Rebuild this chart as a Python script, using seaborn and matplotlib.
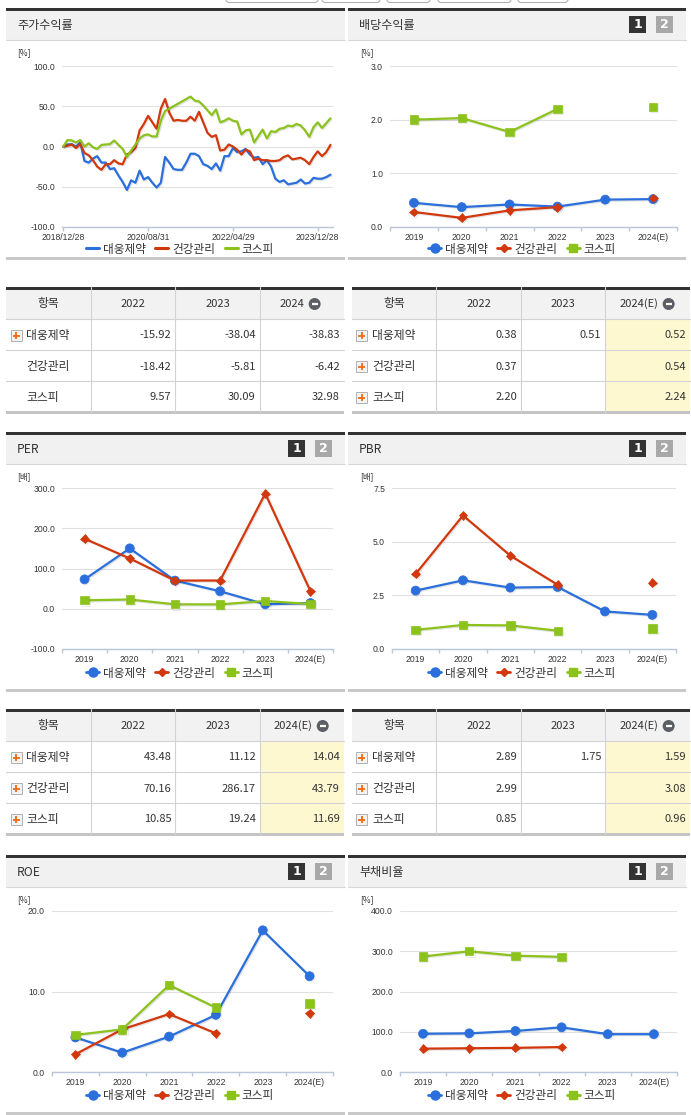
import numpy as np
import pandas as pd
import matplotlib
matplotlib.use('Agg')
import matplotlib.pyplot as plt
import matplotlib.patheffects as pe
from matplotlib.patches import Rectangle, Circle, FancyBboxPatch
from matplotlib.lines import Line2D
from matplotlib.ticker import FormatStrFormatter
import seaborn as sns

sns.set_theme(style='white')
plt.rcParams['font.family'] = ['Noto Sans CJK KR', 'DejaVu Sans']

W, H = 691, 1115

names = ['대웅제약', '건강관리', '코스피']
colors = ['#2a6fdc', '#d2380c', '#8cc21c']
markers = ['o', 'D', 's']
msizes = [6.5, 4.5, 6]
years = ['2019', '2020', '2021', '2022', '2023', '2024(E)']

# 주가수익률 (monthly, %)
ret_daewoong = [0, 2.5, 3, 0, 5, -18, -20, -15, -12, -20, -20, -28, -27, -36, -44, -54,
                -42, -45, -30, -41, -38, -45, -51, -45, -13, -20, -28, -29, -29, -20, -9, -9,
                -12, -22, -24, -28, -21, -30, -12, -12, -2, -7, -6, -3, -10, -14, -13, -22,
                -17, -25, -40, -44, -42, -47, -46, -45, -41, -46, -45, -39, -40, -40, -38, -35]
ret_health = [0, 1, 2.5, -2, 3, -8, -11, -17, -25, -29, -22, -22, -17, -21, -22, -10,
              -7, -2, 20, 28, 38, 30, 22, 47, 59, 42, 32, 33, 32, 32, 37, 32,
              43, 30, 17, 12, 14, -5, -4, 2.5, 0, -4, -10, -4, -6, -17, -15, -17,
              -17, -18, -18, -17, -13, -11, -16, -15, -14, -17, -22, -13, -6, -12, -7, 2]
ret_kospi = [0, 8, 7.5, 5, 8, 0, 4, -1, -3, 2, 2.5, 3, 7.5, 2, -3, -13,
             -5, 2.5, 10, 14, 15, 12.5, 12.5, 32, 44, 47, 50, 53, 56, 59, 62, 57,
             56, 51, 45, 39, 46, 30, 32, 35, 32, 31, 15, 20, 21, 5, 13, 21,
             10, 19, 18, 22, 23, 26, 25, 28, 26, 20, 12, 24, 30, 23, 29, 35]
ret_tick_pos = [0, 20, 40, 60]
ret_tick_labels = ['2018/12/28', '2020/08/31', '2022/04/29', '2023/12/28']

div_daewoong = [0.45, 0.37, 0.42, 0.38, 0.51, 0.52]
div_health = [0.28, 0.17, 0.31, 0.37, None, 0.54]
div_kospi = [2.00, 2.03, 1.77, 2.20, None, 2.24]

per_daewoong = [73, 150, 70, 43.48, 11.12, 14.04]
per_health = [174, 125, 70, 70.16, 286.17, 43.79]
per_kospi = [21, 23, 11, 10.85, 19.24, 11.69]

pbr_daewoong = [2.72, 3.20, 2.86, 2.89, 1.75, 1.59]
pbr_health = [3.50, 6.22, 4.35, 2.99, None, 3.08]
pbr_kospi = [0.89, 1.12, 1.10, 0.85, None, 0.96]

roe_daewoong = [4.3, 2.4, 4.4, 7.1, 17.6, 11.9]
roe_health = [2.2, 5.3, 7.2, 4.8, None, 7.3]
roe_kospi = [4.6, 5.3, 10.8, 8.0, None, 8.5]

debt_daewoong = [95, 96, 102, 111, 94, 94]
debt_health = [58, 59, 60, 62, None, None]
debt_kospi = [287, 300, 289, 286, None, None]

# tables
t_ret_head = ['2022', '2023', '2024']
t_ret_vals = [['-15.92', '-38.04', '-38.83'], ['-18.42', '-5.81', '-6.42'], ['9.57', '30.09', '32.98']]
t_div_head = ['2022', '2023', '2024(E)']
t_div_vals = [['0.38', '0.51', '0.52'], ['0.37', '', '0.54'], ['2.20', '', '2.24']]
t_per_vals = [['43.48', '11.12', '14.04'], ['70.16', '286.17', '43.79'], ['10.85', '19.24', '11.69']]
t_pbr_vals = [['2.89', '1.75', '1.59'], ['2.99', '', '3.08'], ['0.85', '', '0.96']]

fig = plt.figure(figsize=(W / 100, H / 100), dpi=100)
bg = fig.add_axes([0, 0, 1, 1])
bg.set_xlim(0, W)
bg.set_ylim(H, 0)
bg.axis('off')

shadow = [pe.SimpleLineShadow(offset=(0.8, -0.8), shadow_color='k', alpha=0.12), pe.Normal()]
AXC = '#b9c7d8'

# cut-off buttons at top
for bx0, bx1 in [(226, 318), (322, 380), (387, 430), (438, 511), (518, 568)]:
    bg.add_patch(FancyBboxPatch((bx0, -20), bx1 - bx0, 22.5, boxstyle='round,pad=0,rounding_size=3',
                                fc='white', ec='#b0b0b0', lw=0.8))


def panel(x0, x1, y0, y1, title, buttons=True):
    bg.add_patch(Rectangle((x0, y0 + 2.5), x1 - x0, 29, color='#f1f1f1', lw=0))
    bg.add_patch(Rectangle((x0, y0), x1 - x0, 2.5, color='#333333', lw=0))
    bg.plot([x0, x1], [y0 + 31.5] * 2, color='#d8d8d8', lw=0.8)
    bg.add_patch(Rectangle((x0, y1 - 2.5), x1 - x0, 3, color='#c9c9c9', lw=0))
    bg.text(x0 + 11, y0 + 17.5, title, fontsize=8.7, va='center', ha='left', color='#333333')
    if buttons:
        for k, (lab, fc) in enumerate([('1', '#333333'), ('2', '#a8a8a8')]):
            bx = x1 - 57 + k * 27
            bg.add_patch(Rectangle((bx, y0 + 8), 17, 17, color=fc, lw=0))
            bg.text(bx + 8.5, y0 + 16.8, lab, color='white', fontsize=9, fontweight='bold',
                    ha='center', va='center', family='DejaVu Sans')


def make_axes(x0, x1, ytop, ybot):
    ax = fig.add_axes([x0 / W, 1 - ybot / H, (x1 - x0) / W, (ybot - ytop) / H])
    ax.patch.set_alpha(0)
    return ax


def style_axes(ax, ylim, yticks):
    ax.set_ylim(*ylim)
    ax.set_yticks(yticks)
    ax.yaxis.set_major_formatter(FormatStrFormatter('%.1f'))
    for s in ['top', 'right', 'left']:
        ax.spines[s].set_visible(False)
    ax.spines['bottom'].set_color(AXC)
    ax.spines['bottom'].set_linewidth(1.0)
    ax.grid(axis='y', color='#e1e1e1', lw=0.8)
    ax.grid(axis='x', visible=False)
    ax.set_axisbelow(True)
    ax.tick_params(axis='y', length=0, pad=5, labelsize=6.2, labelcolor='#333333',
                   labelfontfamily='Liberation Sans')
    ax.set_xlabel('')
    ax.set_ylabel('')


def cat_chart(ax, series, ylim, yticks):
    for name, vals, c, m, ms in zip(names, series, colors, markers, msizes):
        rows = []
        seg = 0
        for i, v in enumerate(vals):
            if v is None:
                seg += 1
                continue
            rows.append({'x': i, 'y': v, 'seg': seg})
        df = pd.DataFrame(rows)
        sns.lineplot(data=df, x='x', y='y', units='seg', estimator=None, color=c, marker=m,
                     markersize=ms, markeredgecolor=c, markeredgewidth=0.5, lw=1.6,
                     path_effects=shadow, legend=False, ax=ax)
    style_axes(ax, ylim, yticks)
    ax.set_xlim(-0.5, 5.5)
    ax.set_xticks(range(len(years)))
    ax.set_xticklabels(years)
    ax.set_xticks(np.arange(-0.5, 6, 1), minor=True)
    ax.tick_params(axis='x', which='major', length=0, pad=4.3, labelsize=6.2, labelcolor='#333333',
                   labelfontfamily='Liberation Sans')
    ax.tick_params(axis='x', which='minor', length=3, width=1, color=AXC, direction='out', bottom=True)


def add_legend(cx, cy, with_markers=True):
    handles = []
    for c, m, ms in zip(colors, markers, msizes):
        if with_markers:
            handles.append(Line2D([], [], color=c, lw=2, marker=m, ms=ms, mec=c))
        else:
            handles.append(Line2D([], [], color=c, lw=2.2))
    fig.legend(handles, names, loc='center', bbox_to_anchor=(cx / W, 1 - cy / H), ncol=3,
               frameon=False, fontsize=8.4, handlelength=1.1, handletextpad=0.35,
               columnspacing=0.8, borderpad=0, labelcolor='#333333')


def unit(x, y, s):
    bg.text(x, y, s, fontsize=6, ha='left', va='center', color='#333333')


def draw_table(x0, x1, y0, head, vals, plus, hilite):
    cw = (x1 - x0) / 4
    edges = [x0 + cw * k for k in range(5)]
    ys = [y0, y0 + 32, y0 + 63, y0 + 94, y0 + 125]
    bg.add_patch(Rectangle((x0, y0), x1 - x0, 32, color='#f2f2f2', lw=0))
    if hilite:
        bg.add_patch(Rectangle((edges[3], ys[1]), cw, ys[4] - ys[1], color='#fdf8d0', lw=0))
    for y in ys[1:4]:
        bg.plot([x0, x1], [y, y], color='#d3d3d3', lw=0.8)
    for e in edges[1:4]:
        bg.plot([e, e], [y0, ys[4]], color='#d3d3d3', lw=0.8)
    bg.add_patch(Rectangle((x0, y0), x1 - x0, 2.5, color='#333333', lw=0))
    bg.add_patch(Rectangle((x0, ys[4] - 1), x1 - x0, 2.5, color='#c4c4c4', lw=0))
    hy = y0 + 17
    bg.text((edges[0] + edges[1]) / 2, hy, '항목', fontsize=8.5, ha='center', va='center', color='#333333')
    for k, h in enumerate(head):
        cx = (edges[k + 1] + edges[k + 2]) / 2
        if k == 2:
            tw = 5.4 * len(h)
            gw = tw + 4 + 12
            tr = cx - gw / 2 + tw
            bg.text(tr, hy, h, fontsize=8, ha='right', va='center', color='#333333')
            cc = tr + 4 + 6
            bg.add_patch(Circle((cc, hy), 6, color='#5c6066', lw=0))
            bg.plot([cc - 3, cc + 3], [hy, hy], color='white', lw=1.6, solid_capstyle='butt')
        else:
            bg.text(cx, hy, h, fontsize=8, ha='center', va='center', color='#333333')
    for r, (name, row) in enumerate(zip(names, vals)):
        cy = (ys[r + 1] + ys[r + 2]) / 2 + 1
        if plus[r]:
            ix = x0 + 10
            bg.add_patch(Rectangle((ix - 5.5, cy - 5.5), 11, 11, fc='#f3f3f3', ec='#b0b0b0', lw=0.7))
            bg.plot([ix - 3.5, ix + 3.5], [cy, cy], color='#f26a0e', lw=1.3, solid_capstyle='butt')
            bg.plot([ix, ix], [cy - 3.5, cy + 3.5], color='#f26a0e', lw=1.3, solid_capstyle='butt')
        bg.text(x0 + 20, cy, name, fontsize=8.5, ha='left', va='center', color='#333333')
        for k, v in enumerate(row):
            bg.text(edges[k + 2] - 4, cy, v, fontsize=8, ha='right', va='center', color='#333333')


# ---- row 1 panels
panel(6, 345, 8, 259, '주가수익률', buttons=False)
panel(348, 686, 8, 259, '배당수익률')

ax = make_axes(62, 333, 66, 227)
idx = np.arange(len(ret_daewoong))
for vals, c in zip([ret_daewoong, ret_health, ret_kospi], colors):
    sns.lineplot(x=idx, y=vals, color=c, lw=1.6, path_effects=shadow, ax=ax)
style_axes(ax, (-100, 100), [-100, -50, 0, 50, 100])
ax.set_xlim(-0.3, 63.6)
ax.set_xticks(ret_tick_pos)
ax.set_xticklabels(ret_tick_labels)
ax.tick_params(axis='x', length=3, width=1, color=AXC, direction='out', bottom=True, pad=1.5,
               labelsize=6.2, labelcolor='#333333', labelfontfamily='Liberation Sans')
unit(17, 53, '[%]')
add_legend(180, 249, with_markers=False)

ax = make_axes(390, 677, 66, 227)
cat_chart(ax, [div_daewoong, div_health, div_kospi], (0, 3), [0, 1, 2, 3])
unit(360, 53, '[%]')
add_legend(522, 249)

# ---- table 1
draw_table(6.5, 344, 287, t_ret_head, t_ret_vals, [True, False, False], False)
draw_table(352, 690, 287, t_div_head, t_div_vals, [True, True, True], True)

# ---- row 2 panels
panel(6, 345, 432, 691, 'PER')
panel(348, 686, 432, 691, 'PBR')

ax = make_axes(62, 333, 488, 649)
cat_chart(ax, [per_daewoong, per_health, per_kospi], (-100, 300), [-100, 0, 100, 200, 300])
unit(17, 477, '[배]')
add_legend(180, 673)

ax = make_axes(392, 676, 488, 649)
cat_chart(ax, [pbr_daewoong, pbr_health, pbr_kospi], (0, 7.5), [0, 2.5, 5.0, 7.5])
unit(360, 477, '[배]')
add_legend(522, 673)

# ---- table 2
draw_table(6.5, 344, 709, t_div_head, t_per_vals, [True, True, True], True)
draw_table(352, 690, 709, t_div_head, t_pbr_vals, [True, True, True], True)

# ---- row 3 panels
panel(6, 345, 855, 1114, 'ROE')
panel(348, 686, 855, 1114, '부채비율')

ax = make_axes(52, 333, 911, 1072)
cat_chart(ax, [roe_daewoong, roe_health, roe_kospi], (0, 20), [0, 10, 20])
unit(17, 900, '[%]')
add_legend(180, 1096)

ax = make_axes(400, 677, 911, 1072)
cat_chart(ax, [debt_daewoong, debt_health, debt_kospi], (0, 400), [0, 100, 200, 300, 400])
unit(360, 900, '[%]')
add_legend(522, 1096)

fig.savefig('out.png', dpi=100)
